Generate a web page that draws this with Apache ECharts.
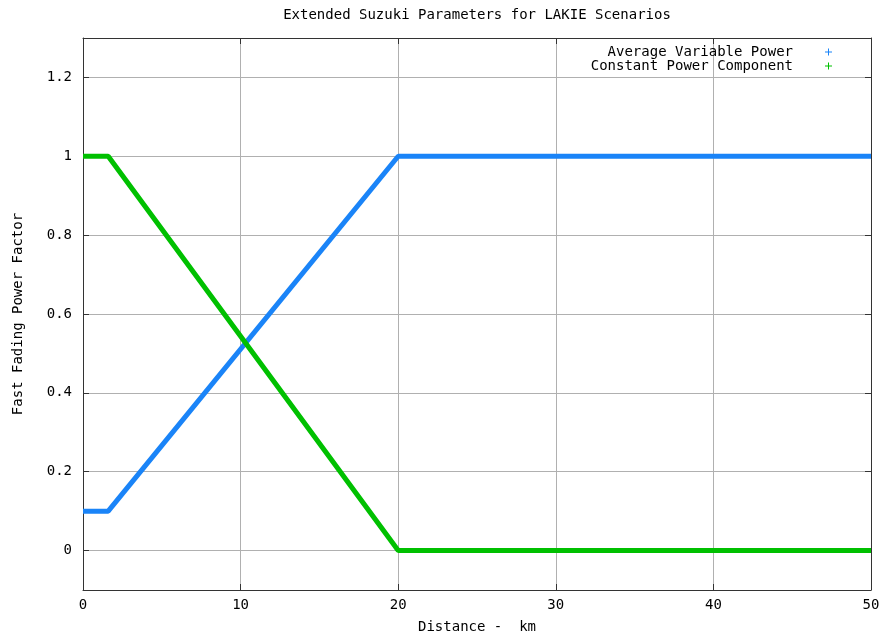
<!DOCTYPE html>
<html>
<head>
<meta charset="utf-8">
<script src="https://cdn.jsdelivr.net/npm/echarts@6/dist/echarts.min.js"></script>
<style>html,body{margin:0;padding:0;background:#fff;}#c{width:886px;height:639px;}</style>
</head>
<body>
<div id="c"></div>
<script>
const chartTitle = 'Extended Suzuki Parameters for LAKIE Scenarios';
const xName = 'Distance -  km';
const yName = 'Fast Fading Power Factor';
const seriesNames = ['Average Variable Power', 'Constant Power Component'];
const avgVariable = [[0, 0.1], [1.6, 0.1], [20, 1], [50, 1]];
const constantComp = [[0, 1], [1.6, 1], [20, 0], [50, 0]];
const yTicks = [0, 0.2, 0.4, 0.6, 0.8, 1, 1.2];
const xTicks = [0, 10, 20, 30, 40, 50];

const FONT = 'DejaVu Sans Mono';
const FS = 14;
const plusIcon = 'path://M0,3.5L0.01,3.5L0.01,3.51Z M27,3L34,3L34,4L27,4Z M30,0L31,0L31,7L30,7Z';
const axisColor = '#333';
const gridColor = '#b0b0b0';

const chart = echarts.init(document.getElementById('c'), null, {renderer: 'canvas'});
const legendBase = {
  orient: 'vertical', right: 54, padding: 0, align: 'right',
  itemWidth: 34, itemHeight: 7, icon: plusIcon,
  textStyle: {fontFamily: FONT, fontSize: FS, color: '#000', lineHeight: 14}
};
chart.setOption({
  animation: false,
  backgroundColor: '#fff',
  grid: {left: 83, right: 15, top: 38, bottom: 45, containLabel: false},
  graphic: [{
    type: 'text', x: 477, y: 15,
    style: {text: chartTitle, fontFamily: FONT, fontSize: FS, fill: '#000', align: 'center', verticalAlign: 'middle'}
  }],
  legend: [
    Object.assign({}, legendBase, {top: 45, data: [seriesNames[0]]}),
    Object.assign({}, legendBase, {top: 59, data: [seriesNames[1]]})
  ],
  xAxis: [{
    type: 'value', min: 0, max: 50, interval: 10, position: 'bottom',
    name: xName, nameLocation: 'middle', nameGap: 30,
    nameTextStyle: {fontFamily: FONT, fontSize: FS, color: '#000'},
    axisLine: {show: true, onZero: false, lineStyle: {color: axisColor, width: 1}},
    axisTick: {show: true, inside: true, length: 6, lineStyle: {color: axisColor}},
    axisLabel: {fontFamily: FONT, fontSize: FS, color: '#000', margin: 8},
    splitLine: {show: true, lineStyle: {color: gridColor, width: 1}}
  }, {
    type: 'value', min: 0, max: 50, interval: 10, position: 'top',
    axisLine: {show: true, onZero: false, lineStyle: {color: axisColor, width: 1}},
    axisTick: {show: true, inside: true, length: 6, lineStyle: {color: axisColor}},
    axisLabel: {show: false}, splitLine: {show: false}
  }],
  yAxis: [{
    type: 'value', min: -0.1, max: 1.3, position: 'left',
    name: yName, nameLocation: 'middle', nameGap: 58, nameRotate: 90,
    nameTextStyle: {fontFamily: FONT, fontSize: FS, color: '#000'},
    axisLine: {show: true, onZero: false, lineStyle: {color: axisColor, width: 1}},
    axisTick: {show: true, inside: true, length: 6, customValues: yTicks, lineStyle: {color: axisColor}},
    axisLabel: {fontFamily: FONT, fontSize: FS, color: '#000', margin: 11, customValues: yTicks},
    splitLine: {show: true, lineStyle: {color: gridColor, width: 1}}
  }, {
    type: 'value', min: -0.1, max: 1.3, position: 'right',
    axisLine: {show: true, onZero: false, lineStyle: {color: axisColor, width: 1}},
    axisTick: {show: true, inside: true, length: 6, customValues: yTicks, lineStyle: {color: axisColor}},
    axisLabel: {show: false}, splitLine: {show: false}
  }],
  series: [{
    name: seriesNames[0], type: 'line', data: avgVariable, xAxisIndex: 0, yAxisIndex: 0,
    showSymbol: false, symbol: 'none', color: '#1a84f8',
    lineStyle: {width: 5, color: '#1a84f8'}, clip: false
  }, {
    name: seriesNames[1], type: 'line', data: constantComp, xAxisIndex: 0, yAxisIndex: 0,
    showSymbol: false, symbol: 'none', color: '#00c000',
    lineStyle: {width: 5, color: '#00c000'}, clip: false
  }]
});
</script>
</body>
</html>
